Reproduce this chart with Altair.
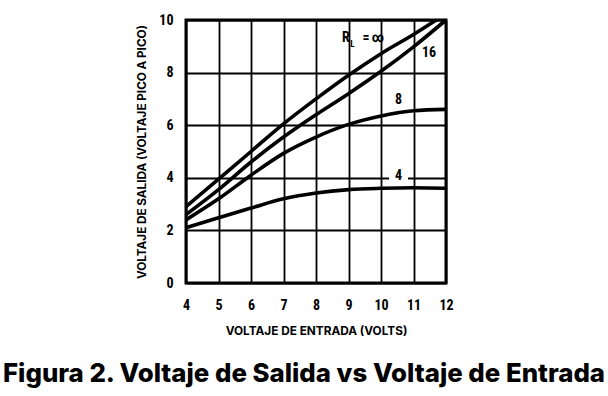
import altair as alt
import pandas as pd

# Data
x_inf = [4, 5, 6, 7, 8, 9, 10, 11, 11.7]
y_inf = [2.9, 3.95, 5.0, 6.05, 7.0, 7.9, 8.72, 9.45, 10.0]
x_16 = [4, 5, 6, 7, 8, 9, 10, 11, 12]
y_16 = [2.6, 3.55, 4.6, 5.55, 6.4, 7.2, 8.05, 8.98, 10.0]
x_8 = [4, 5, 6, 7, 8, 9, 10, 11, 12]
y_8 = [2.4, 3.2, 4.1, 4.93, 5.55, 6.03, 6.35, 6.55, 6.6]
x_4 = [4, 5, 6, 7, 8, 9, 10, 11, 12]
y_4 = [2.1, 2.48, 2.85, 3.2, 3.42, 3.55, 3.6, 3.62, 3.6]

x_ticks = [4, 5, 6, 7, 8, 9, 10, 11, 12]
y_ticks = [0, 2, 4, 6, 8, 10]

label_text = ["R", "=", "∞", "16", "8", "4"]
label_x = [8.92, 9.54, 9.9, 11.48, 10.54, 10.54]
label_y = [9.33, 9.33, 9.33, 8.75, 6.96, 4.08]
sub_text = ["L"]
sub_x = [9.12]
sub_y = [9.1]

rows = []
for name, xs, ys in [("inf", x_inf, y_inf), ("16", x_16, y_16), ("8", x_8, y_8), ("4", x_4, y_4)]:
    for a, b in zip(xs, ys):
        rows.append({"serie": name, "x": a, "y": b})
df = pd.DataFrame(rows)

labels = pd.DataFrame({"t": label_text, "x": label_x, "y": label_y})
subs = pd.DataFrame({"t": sub_text, "x": sub_x, "y": sub_y})
box = pd.DataFrame({"x": [10.25], "x2": [10.83], "y": [3.85], "y2": [4.3]})

FONT = "Roboto Condensed, DejaVu Sans Condensed, Liberation Sans Narrow, Liberation Sans, sans-serif"

xscale = alt.Scale(domain=[4, 12], nice=False)
yscale = alt.Scale(domain=[0, 10], nice=False)

xaxis = alt.Axis(values=x_ticks, title="VOLTAJE DE ENTRADA (VOLTS)", grid=True,
                 ticks=False, domain=False, labelPadding=15, titlePadding=13,
                 labelOverlap=False, labelFlush=False,
                 labelFont=FONT, labelFontWeight="bold", labelFontSize=14,
                 titleFont="Inter", titleFontWeight="bold", titleFontSize=11.8,
                 labelColor="black", titleColor="black",
                 gridColor="black", gridWidth=1.8, gridOpacity=1)
yaxis = alt.Axis(values=y_ticks, title="VOLTAJE DE SALIDA (VOLTAJE PICO A PICO)", grid=True,
                 ticks=False, domain=False, labelPadding=13, titlePadding=11,
                 labelOverlap=False, labelFlush=False,
                 labelFont=FONT, labelFontWeight="bold", labelFontSize=14,
                 titleFont="Inter", titleFontWeight="bold", titleFontSize=11.7,
                 labelColor="black", titleColor="black",
                 gridColor="black", gridWidth=1.8, gridOpacity=1)

X = lambda f: alt.X(f, scale=xscale, axis=xaxis)
Y = lambda f: alt.Y(f, scale=yscale, axis=yaxis)

lines = alt.Chart(df).mark_line(color="black", strokeWidth=3.6, interpolate="monotone").encode(
    x=X("x:Q"), y=Y("y:Q"), detail="serie:N",
)

bg = alt.Chart(box).mark_rect(color="white").encode(
    x=X("x:Q"), x2="x2", y=Y("y:Q"), y2="y2"
)

txt = alt.Chart(labels).mark_text(font=FONT, fontWeight="bold", fontSize=14, color="black").encode(
    x=X("x:Q"), y=Y("y:Q"), text="t:N"
)
sub = alt.Chart(subs).mark_text(font=FONT, fontWeight="bold", fontSize=9, color="black").encode(
    x=X("x:Q"), y=Y("y:Q"), text="t:N"
)

chart = alt.layer(lines, bg, txt, sub).properties(
    width=260, height=263,
    autosize=alt.AutoSizeParams(type="none"),
    padding={"left": 186, "top": 20, "right": 162, "bottom": 113},
    title=alt.TitleParams("Figura 2. Voltaje de Salida vs Voltaje de Entrada",
                          orient="bottom", anchor="middle", dx=-12, offset=25,
                          font="Inter", fontWeight=800, fontSize=25.8, color="black"),
).configure_view(stroke="black", strokeWidth=3)

chart.save("out.html", embed_options={"renderer": "svg", "actions": False})
